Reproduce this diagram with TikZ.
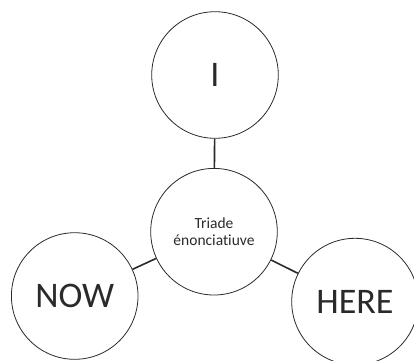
\documentclass[tikz,border=0pt]{standalone}
\usepackage{fontspec}
\setmainfont[Ligatures={NoCommon}]{Carlito}
\definecolor{ink}{HTML}{2A2A2A}
\begin{document}
\begin{tikzpicture}[x=1pt,y=-1pt,
  bubble/.style={circle,draw=ink,line width=0.8pt,minimum size=126.6pt,inner sep=0pt,text=ink,align=center},
  big/.style={font=\fontsize{36}{40}\selectfont},
  small/.style={font=\fontsize{15.5}{17.5}\selectfont},
  link/.style={draw=ink,line width=1.6pt}]
\useasboundingbox (0,0) rectangle (414,360);
\clip (0,0) rectangle (414,360);
\node[bubble,big] (i) at (215,75) {I};
\node[bubble,small] (c) at (214,231.7) {Triade\\énonciat\kern0pt iuve};
\node[bubble,big] (now) at (74.7,296) {NOW};
\node[bubble,big] (here) at (355,301.6) {HERE};
\draw[link] (i) -- (c);
\draw[link] (now) -- (c);
\draw[link] (here) -- (c);
\end{tikzpicture}
\end{document}
